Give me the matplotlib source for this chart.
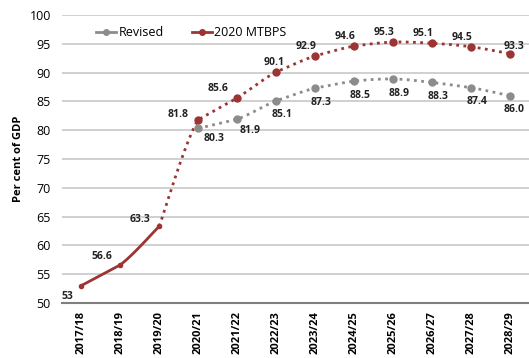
import matplotlib.pyplot as plt
import numpy as np

plt.rcParams['font.family'] = ['Open Sans', 'DejaVu Sans']

years = ['2017/18', '2018/19', '2019/20', '2020/21', '2021/22', '2022/23', '2023/24',
         '2024/25', '2025/26', '2026/27', '2027/28', '2028/29']
actual = [53, 56.6, 63.3]
mtbps = [63.3, 81.8, 85.6, 90.1, 92.9, 94.6, 95.3, 95.1, 94.5, 93.3]
revised = [80.3, 81.9, 85.1, 87.3, 88.5, 88.9, 88.3, 87.4, 86.0]

red = '#9C3434'
grey = '#8C8C8C'


def smooth(x, y, n=20):
    # Catmull-Rom style curve through the points, like Excel's smoothed lines
    x = np.asarray(x, float)
    y = np.asarray(y, float)
    px = np.r_[x[0], x, x[-1]]
    py = np.r_[y[0], y, y[-1]]
    xs, ys = [], []
    t = np.linspace(0, 1, n)
    for i in range(1, len(px) - 2):
        for p, out, clamp in ((px, xs, False), (py, ys, True)):
            p0, p1, p2, p3 = p[i - 1], p[i], p[i + 1], p[i + 2]
            d1 = (p2 - p0) / 6
            d2 = (p3 - p1) / 6
            if clamp:
                lim = max(abs(p2 - p1) / 3, 0.3)
                d1 = np.clip(d1, -lim, lim)
                d2 = np.clip(d2, -lim, lim)
            c1, c2 = p1 + d1, p2 - d2
            out.extend((1 - t) ** 3 * p1 + 3 * (1 - t) ** 2 * t * c1
                       + 3 * (1 - t) * t ** 2 * c2 + t ** 3 * p2)
    return xs, ys


fig = plt.figure(figsize=(5.29, 3.58), dpi=100)
ax = fig.add_axes([0.117, 0.154, 0.883, 0.804])

x_act = np.arange(len(actual))
x_mt = np.arange(2, 2 + len(mtbps))
x_rev = np.arange(3, 3 + len(revised))

ax.plot(*smooth(x_act, actual), color=red, lw=2, zorder=3)
ax.plot(x_act, actual, ls='none', marker='o', ms=3, color=red, zorder=3)
ax.plot(*smooth(x_mt, mtbps), color=red, lw=2, ls=(0, (1, 1.6)), zorder=3)
ax.plot(x_mt[1:], mtbps[1:], ls='none', marker='o', ms=5, color=red, zorder=4)
ax.plot(*smooth(x_rev, revised), color=grey, lw=2, ls=(0, (1, 1.6)), zorder=3)
ax.plot(x_rev, revised, ls='none', marker='o', ms=5, color=grey, zorder=4)

# legend handles
h_rev, = ax.plot([], [], color=grey, lw=2, marker='o', ms=4)
h_mt, = ax.plot([], [], color=red, lw=2, marker='o', ms=4)
ax.legend([h_rev, h_mt], ['Revised', '2020 MTBPS'], loc='upper left',
          bbox_to_anchor=(0.05, 1.0), ncol=2, frameon=False, fontsize=9,
          handlelength=1.6, handletextpad=0.2, columnspacing=2.2)

lab = dict(fontsize=7.5, fontweight='bold', color='#222222', textcoords='offset points')
ax.annotate('53', (0, 53), xytext=(-14, -10), **lab)
ax.annotate('56.6', (1, 56.6), xytext=(-21, 4), **lab)
ax.annotate('63.3', (2, 63.3), xytext=(-21, 3), **lab)
ax.annotate('81.8', (3, 81.8), xytext=(-22, 2), **lab)
ax.annotate('85.6', (4, 85.6), xytext=(-21, 5), **lab)
ax.annotate('90.1', (5, 90.1), xytext=(-9, 5), **lab)
for i, v in zip(x_mt[4:], mtbps[4:]):
    dx = -14 if i < 11 else -4
    dy = 5 if i < 11 else 3
    ax.annotate(f'{v}', (i, v), xytext=(dx, dy), **lab)
ax.annotate('80.3', (3, 80.3), xytext=(4, -9), **lab)
ax.annotate('81.9', (4, 81.9), xytext=(2, -10), **lab)
for i, v in zip(x_rev[2:], revised[2:]):
    dx = -3 if i < 11 else -4
    ax.annotate(f'{v:.1f}', (i, v), xytext=(dx, -12), **lab)

ax.set_xlim(-0.5, 11.5)
ax.set_ylim(50, 100)
ax.set_yticks(range(50, 101, 5))
ax.set_xticks(range(len(years)))
ax.set_xticklabels(years, rotation=90, fontsize=8, fontweight='bold')
ax.tick_params(axis='y', labelsize=9, length=0, pad=8)
ax.tick_params(axis='x', length=0, pad=6)
ax.set_ylabel('Per cent of GDP', fontsize=8, fontweight='bold')
ax.yaxis.grid(True, color='#C8C8C8', lw=1.2)
ax.set_axisbelow(True)
for s in ['top', 'right', 'left']:
    ax.spines[s].set_visible(False)
ax.spines['bottom'].set_color('#7F7F7F')
ax.spines['bottom'].set_linewidth(1.5)

fig.savefig('out.png', dpi=100)
